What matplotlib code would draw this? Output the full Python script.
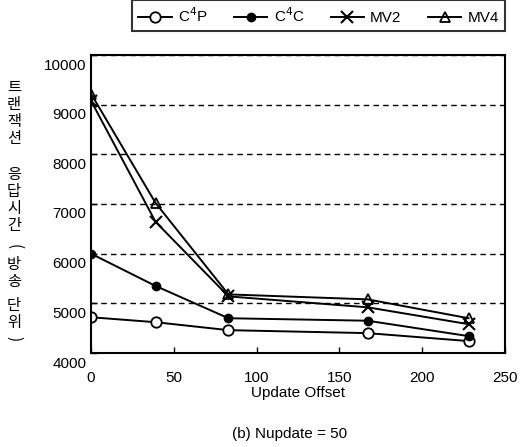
import matplotlib
matplotlib.use('Agg')
import matplotlib.pyplot as plt
import matplotlib.transforms as mtransforms

plt.rcParams['font.family'] = ['Liberation Sans', 'DejaVu Sans']

# data
offset = [0, 39, 83, 167, 228]
c4p = [4720, 4620, 4460, 4400, 4240]
c4c = [6000, 5350, 4700, 4650, 4340]
mv2 = [9080, 6640, 5140, 4920, 4580]
mv4 = [9220, 7020, 5180, 5080, 4700]
labels = ['C$^4$P', 'C$^4$C', 'MV2', 'MV4']
ylabel_words = ['트랜잭션', '응답시간', '(방송', '단위)']

fig = plt.figure(figsize=(5.23, 4.47), dpi=100)
ax = fig.add_axes([91/523, 1-353/447, (505-91)/523, (353-55)/447])

ax.plot(offset, c4p, color='black', lw=1.4, marker='o', ms=7.5, mfc='white', mec='black', mew=1.3, label=labels[0])
ax.plot(offset, c4c, color='black', lw=1.4, marker='o', ms=6, mfc='black', label=labels[1])
ax.plot(offset, mv2, color='black', lw=1.4, marker='x', ms=8, mew=1.5, label=labels[2])
ax.plot(offset, mv4, color='black', lw=1.4, marker='^', ms=7.5, mfc='none', mec='black', mew=1.3, label=labels[3])

ax.set_xlim(0, 250)
ax.set_ylim(4000, 10000)
ax.set_xticks(range(0, 251, 50))
ax.set_yticks(range(4000, 10001, 1000))
ax.grid(axis='y', color='black', linestyle=(0, (4, 3)), lw=1.0)
ax.tick_params(direction='in', length=4, labelsize=11, width=1)
ax.tick_params(axis='x', pad=13)
for s in ax.spines.values():
    s.set_linewidth(1.5)

# tick labels sit a bit below their gridlines in the reference
shift = mtransforms.ScaledTranslation(0, -9/100, fig.dpi_scale_trans)
for lab in ax.get_yticklabels():
    lab.set_transform(lab.get_transform() + shift)

ax.set_xlabel('Update Offset', fontsize=11, labelpad=1)

# vertical Korean y label, one glyph per row, words separated by gaps
y = 1 - 87/447
gaps = [19, 5, 7, 0]
for word, gap in zip(ylabel_words, gaps):
    for ch in word:
        rot = 270 if ch in '()' else 0
        fig.text(14/523, y, ch, fontsize=11, family=['Noto Sans CJK KR', 'DejaVu Sans'],
                 ha='center', va='center', rotation=rot, rotation_mode='anchor')
        y -= 17/447
    y -= gap/447

fig.text(290/523, 1-434/447, '(b) Nupdate = 50', fontsize=11, ha='center', va='center')

leg = fig.legend(loc='lower left', bbox_to_anchor=(132/523, 1-31/447, (505-132)/523, 28/447),
                 mode='expand', ncol=4, fontsize=11, frameon=True, fancybox=False,
                 handlelength=2.2, borderaxespad=0, handletextpad=0.4, columnspacing=1.0)
leg.get_frame().set_edgecolor('black')
leg.get_frame().set_linewidth(1.5)

fig.savefig('out.png', dpi=100)
